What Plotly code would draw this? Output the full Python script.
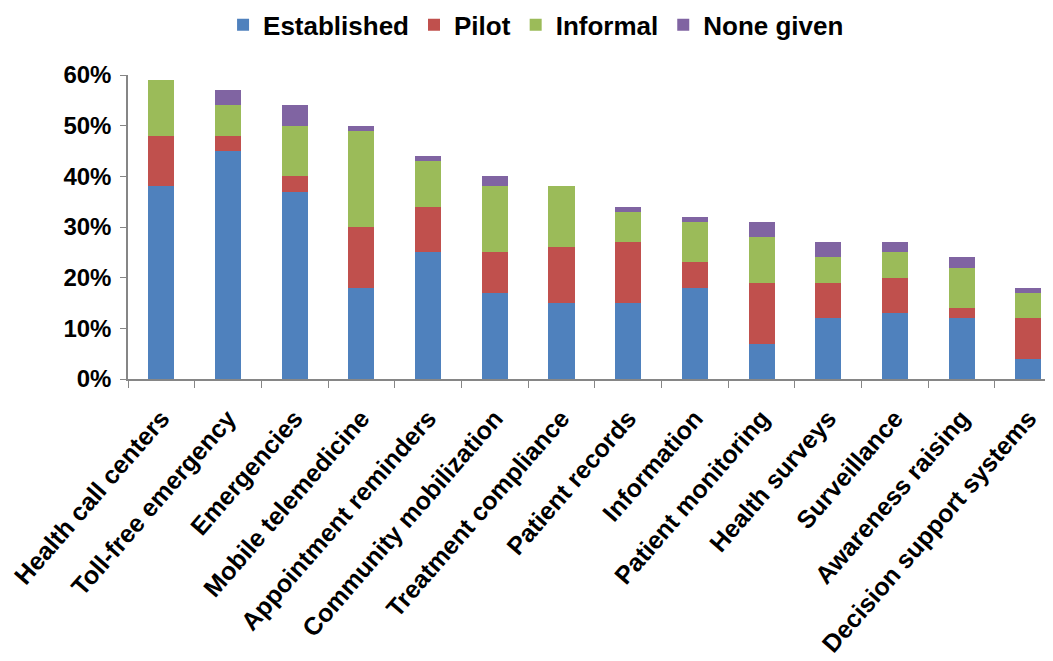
import plotly.graph_objects as go

categories = ["Health call centers", "Toll-free emergency", "Emergencies", "Mobile telemedicine",
              "Appointment reminders", "Community mobilization", "Treatment compliance",
              "Patient records", "Information", "Patient monitoring", "Health surveys",
              "Surveillance", "Awareness raising", "Decision support systems"]
established = [38, 45, 37, 18, 25, 17, 15, 15, 18, 7, 12, 13, 12, 4]
pilot       = [10, 3, 3, 12, 9, 8, 11, 12, 5, 12, 7, 7, 2, 8]
informal    = [11, 6, 10, 19, 9, 13, 12, 6, 8, 9, 5, 5, 8, 5]
none_given  = [0, 3, 4, 1, 1, 2, 0, 1, 1, 3, 3, 2, 2, 1]
y_ticks = [0, 10, 20, 30, 40, 50, 60]
y_tick_labels = ["0%", "10%", "20%", "30%", "40%", "50%", "60%"]

series = [("Established", established, "#4F81BD"),
          ("Pilot", pilot, "#C0504D"),
          ("Informal", informal, "#9BBB59"),
          ("None given", none_given, "#8064A2")]

fig = go.Figure()
for name, vals, col in series:
    fig.add_trace(go.Bar(x=categories, y=vals, name=name, marker_color=col,
                         marker_line_width=0))

font_family = "Liberation Sans, Arial, sans-serif"
fig.update_layout(
    barmode="stack",
    bargap=0.61,
    width=1037, height=645,
    margin=dict(l=120, r=0, t=67, b=274, autoexpand=False),
    paper_bgcolor="white", plot_bgcolor="white",
    font=dict(family=font_family, color="black"),
    legend=dict(orientation="h", x=0.445, xanchor="center",
                yref="container", y=0.974, yanchor="middle",
                font=dict(size=26, family=font_family, color="black", weight="bold"),
                itemwidth=30, traceorder="normal"),
    xaxis=dict(range=[-0.5, 13.25], showline=True, linecolor="#868686", linewidth=1.5,
               ticks="outside", tickson="boundaries", ticklen=7, tickcolor="#868686",
               tickangle=-49, showgrid=False, ticklabelstandoff=13,
               tickfont=dict(size=25, family=font_family, color="black", weight="bold")),
    yaxis=dict(range=[0, 60], tickvals=y_ticks, ticktext=y_tick_labels, showline=True,
               linecolor="#868686", linewidth=1.5, ticks="outside", ticklen=6,
               tickcolor="#868686", showgrid=False, zeroline=False, ticklabelstandoff=4,
               tickfont=dict(size=24, family=font_family, color="black", weight="bold")),
)
fig.write_html("out.html")
